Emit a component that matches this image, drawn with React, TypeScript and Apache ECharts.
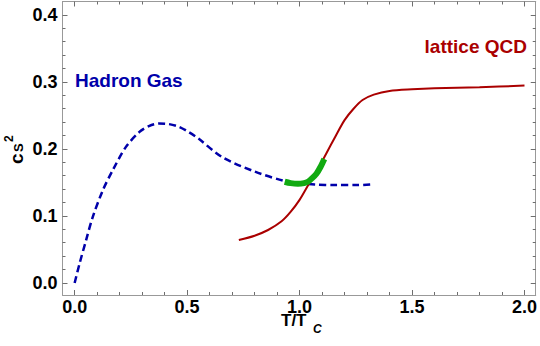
import React, { useEffect, useRef } from "react";
import * as echarts from "echarts";

// Hadron gas (dashed blue)
const hadronX = [0, 0.022, 0.051, 0.081, 0.125, 0.169, 0.228, 0.287, 0.33, 0.375, 0.42, 0.464, 0.508, 0.552, 0.655, 0.802, 0.935, 1.0, 1.067, 1.16, 1.26, 1.314];
const hadronY = [0, 0.029, 0.064, 0.099, 0.138, 0.168, 0.203, 0.225, 0.234, 0.238, 0.237, 0.233, 0.225, 0.215, 0.188, 0.166, 0.152, 0.149, 0.147, 0.146, 0.146, 0.147];

// Lattice QCD (solid red)
const latticeX = [0.73, 0.8, 0.86, 0.92, 0.96, 1.0, 1.04, 1.08, 1.12, 1.16, 1.2, 1.24, 1.28, 1.33, 1.4, 1.5, 1.6, 1.8, 2.0];
const latticeY = [0.064, 0.0705, 0.079, 0.092, 0.106, 0.124, 0.147, 0.169, 0.194, 0.219, 0.243, 0.26, 0.273, 0.281, 0.2865, 0.289, 0.2905, 0.292, 0.2945];

// Crossover (thick green)
const crossX = [0.934, 0.96, 0.993, 1.02, 1.037, 1.055, 1.075, 1.093, 1.11];
const crossY = [0.151, 0.149, 0.148, 0.149, 0.151, 0.156, 0.163, 0.173, 0.185];

const xMajor = [0, 0.5, 1.0, 1.5, 2.0];
const xMinor = [0.1, 0.2, 0.3, 0.4, 0.6, 0.7, 0.8, 0.9, 1.1, 1.2, 1.3, 1.4, 1.6, 1.7, 1.8, 1.9];
const yMajor = [0, 0.1, 0.2, 0.3, 0.4];
const yMinor = [0.02, 0.04, 0.06, 0.08, 0.12, 0.14, 0.16, 0.18, 0.22, 0.24, 0.26, 0.28, 0.32, 0.34, 0.36, 0.38];

const FONT = "'Liberation Sans', Arial, Helvetica, sans-serif";
const AXIS_COLOR = "#999999";
const TICK_COLOR = "#6e6e6e";
const X_MIN = -0.054, X_MAX = 2.05;
const Y_MIN = -0.018, Y_MAX = 0.42;
const MAJOR_LEN = 5, MINOR_LEN = 3;

const zip = (xs: number[], ys: number[]) => xs.map((x, i) => [x, ys[i]]);

function App() {
  const ref = useRef<HTMLDivElement>(null);
  useEffect(() => {
    if (!ref.current) return;
    const chart = echarts.init(ref.current, undefined, { renderer: "svg" });
    const axis = (pos: string, kind: "x" | "y", major: boolean, labels: boolean) => ({
      type: "value",
      min: kind === "x" ? X_MIN : Y_MIN,
      max: kind === "x" ? X_MAX : Y_MAX,
      position: pos,
      axisLine: { show: major, onZero: false, lineStyle: { color: AXIS_COLOR, width: 1 } },
      axisTick: {
        show: true,
        inside: true,
        length: major ? MAJOR_LEN : MINOR_LEN,
        customValues: kind === "x" ? (major ? xMajor : xMinor) : (major ? yMajor : yMinor),
        lineStyle: { color: TICK_COLOR, width: 1 },
      },
      axisLabel: labels
        ? {
            show: true,
            customValues: kind === "x" ? xMajor : yMajor,
            formatter: (v: number) => v.toFixed(1),
            fontSize: 18,
            fontWeight: "bold",
            fontFamily: FONT,
            color: "#000",
            margin: kind === "x" ? 3 : 5,
          }
        : { show: false, customValues: [] },
      splitLine: { show: false },
    });
    chart.setOption({
      animation: false,
      backgroundColor: "#fff",
      grid: { left: 62.5, top: 1.5, width: 476, height: 293.5, containLabel: false },
      xAxis: [
        axis("bottom", "x", true, true),
        axis("bottom", "x", false, false),
        axis("top", "x", true, false),
        axis("top", "x", false, false),
      ],
      yAxis: [
        axis("left", "y", true, true),
        axis("left", "y", false, false),
        axis("right", "y", true, false),
        axis("right", "y", false, false),
      ],
      series: [
        {
          type: "line",
          name: "Hadron Gas",
          data: zip(hadronX, hadronY),
          smooth: 0.3,
          showSymbol: false,
          lineStyle: { color: "#0000aa", width: 2.5, type: [7, 4] },
        },
        {
          type: "line",
          name: "lattice QCD",
          data: zip(latticeX, latticeY),
          smooth: 0.3,
          showSymbol: false,
          lineStyle: { color: "#aa0000", width: 2 },
        },
        {
          type: "line",
          name: "crossover",
          data: zip(crossX, crossY),
          smooth: 0.3,
          showSymbol: false,
          lineStyle: { color: "#11aa11", width: 6, cap: "butt" },
        },
      ],
      graphic: [
        { type: "text", left: 75, top: 71, style: { text: "Hadron Gas", fill: "#0000aa", font: `bold 19px ${FONT}` } },
        { type: "text", right: 13, top: 37, style: { text: "lattice QCD", fill: "#aa0000", font: `bold 19px ${FONT}` } },
        { type: "text", x: 281, y: 312, style: { text: "T/T", fill: "#000", font: `bold 17px ${FONT}` } },
        { type: "text", x: 313, y: 323, style: { text: "C", fill: "#000", font: `italic bold 12px ${FONT}` } },
        { type: "text", x: 7, y: 164, rotation: Math.PI / 2, style: { text: "c", fill: "#000", font: `bold 19px ${FONT}` } },
        { type: "text", x: 12, y: 152, rotation: Math.PI / 2, style: { text: "S", fill: "#000", font: `bold 13px ${FONT}` } },
        { type: "text", x: 3, y: 142, rotation: Math.PI / 2, style: { text: "2", fill: "#000", font: `bold 12px ${FONT}` } },
      ],
    });
    return () => chart.dispose();
  }, []);
  return <div ref={ref} style={{ position: "fixed", left: 0, top: 0, width: 540, height: 346 }} />;
}

export default App;
